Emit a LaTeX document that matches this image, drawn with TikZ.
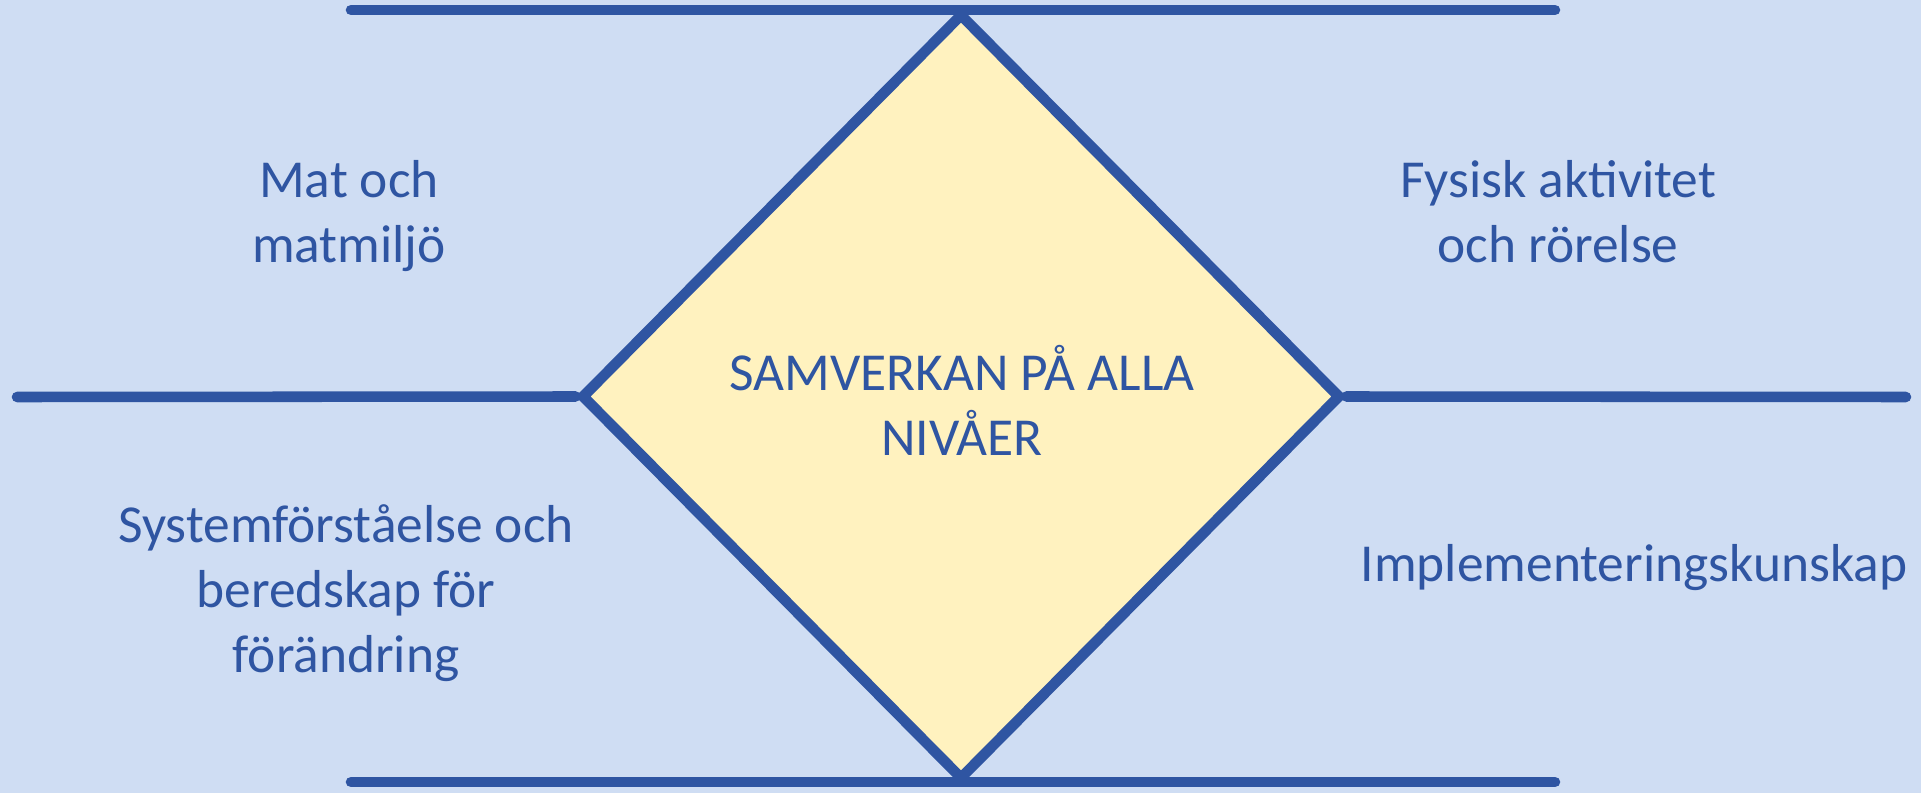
\documentclass[tikz,border=0pt]{standalone}
\usepackage{fontspec}
\setmainfont{Carlito}
\usetikzlibrary{shapes.geometric, positioning, calc}
\definecolor{paleblue}{RGB}{207, 221, 243}
\definecolor{barblue}{RGB}{47, 85, 162}
\definecolor{hubyellow}{RGB}{255, 242, 191}

\begin{document}
\begin{tikzpicture}[
  bar/.style={draw=barblue, line width=3pt, line cap=round},
  hubbox/.style={diamond, draw=barblue, fill=hubyellow, line width=3pt, aspect=1, inner sep=0pt, minimum width=7.6cm, minimum height=7.67cm},
  area/.style={text=barblue, align=center, font=\fontsize{15.2}{18.5}\selectfont}
]
  \useasboundingbox[fill=paleblue] (0,0) rectangle (19.21,7.93);
  % rails
  \coordinate (topL) at (3.51,7.83);
  \coordinate (topR) at (15.55,7.83);
  \coordinate (midL) at (0.17,3.96);
  \coordinate (midR) at (19.06,3.96);
  \coordinate (botL) at (3.51,0.11);
  \coordinate (botR) at (15.55,0.11);
  \draw[bar] (topL) -- (topR);
  \draw[bar] (botL) -- (botR);
  % hub
  \node[hubbox] (hub) at (9.61,3.965) {};
  \draw[bar] (midL) -- (hub.west);
  \draw[bar] (hub.east) -- (midR);
  \node[area] (hubtext) at (9.62,3.93) {SAMVERKAN PÅ ALLA\\NIVÅER};
  % areas
  \node[area] (food) at (3.49,5.77) {Mat och\\matmiljö};
  \node[area] (move) at (15.58,5.81) {Fysisk aktivitet\\och rörelse};
  \node[area] (system) at (3.46,2.00) {Systemförståelse och\\beredskap för\\förändring};
  \node[area] (implement) at (16.34,2.25) {Implementeringskunskap};
\end{tikzpicture}
\end{document}
